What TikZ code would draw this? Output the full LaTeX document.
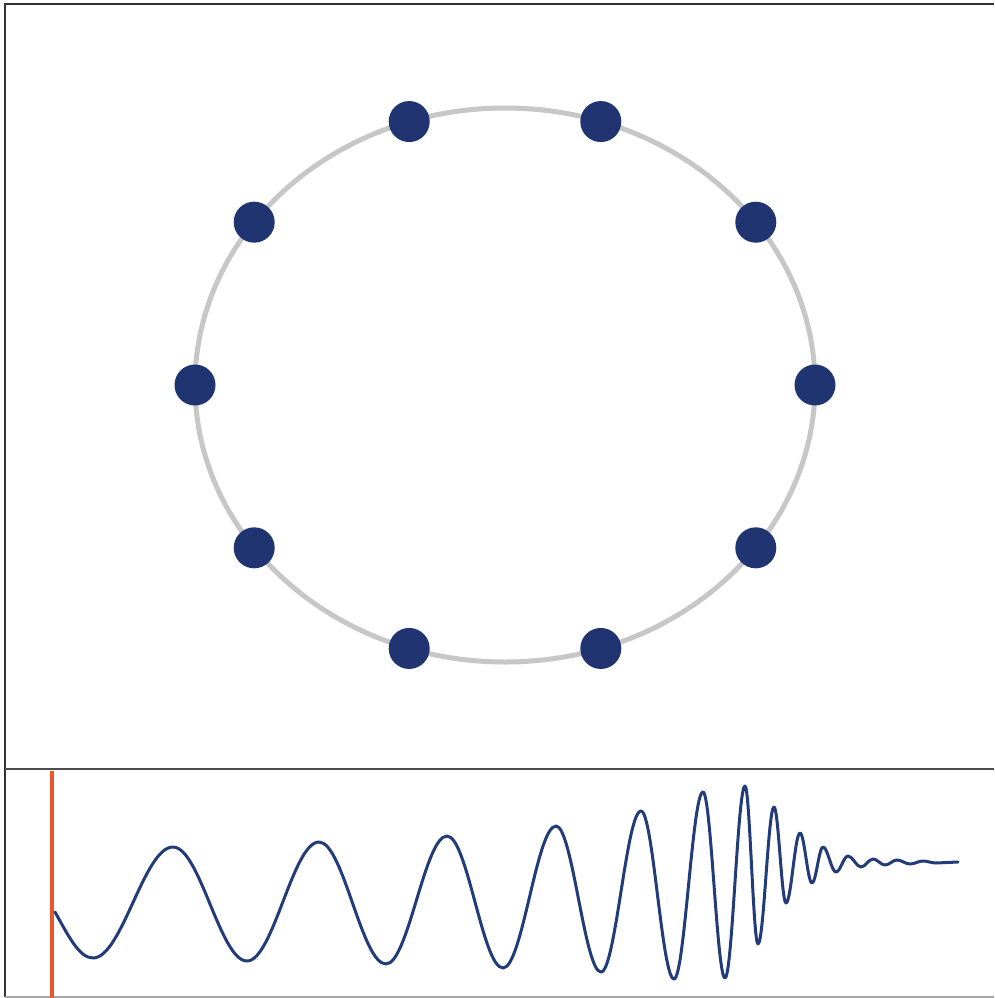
\documentclass[tikz,border=0pt]{standalone}
\usetikzlibrary{calc}
\begin{document}
\begin{tikzpicture}[x=1pt,y=-1pt,
  framel/.style={draw=black!80,line width=2pt},
  ring/.style={draw=black!22,line width=5pt},
  dotnode/.style={circle,fill=navy,inner sep=0pt,minimum size=41pt},
  wave/.style={draw=wavec,line width=3pt,line cap=round,line join=round},
  marker/.style={draw=orangec,line width=4.5pt}]
\definecolor{navy}{HTML}{1F3470}
\definecolor{wavec}{HTML}{223C7A}
\definecolor{orangec}{HTML}{E8582A}
\useasboundingbox (0,0) rectangle (994,998);
\fill[white] (0,0) rectangle (994,998);
% frame
\draw[framel] (994,4) -- (5,4) -- (5,997);
\draw[draw=black!35,line width=2pt] (5,997) -- (994,997);
\draw[draw=black!70,line width=2pt] (5,768.5) -- (994,768.5);
% ring with dots
\coordinate (c) at (505,385);
\draw[ring] (c) ellipse [x radius=310, y radius=277];
\foreach \a [count=\i] in {0,36,...,324}
  \node[dotnode] (d\i) at ($(c)+({310*cos(\a)},{-277*sin(\a)})$) {};
% orange marker
\draw[marker] (52,771) -- (52,998);
% chirp wave
\def\A{0.3634}
\draw[wave] (55,912) .. controls (68,935) and (79,958) .. (93,958)
\foreach \xa/\ya/\xb/\yb in {
  93/958/173/847, 173/847/247/961, 247/961/319/842, 319/842/386/964,
  386/964/447/836, 447/836/503/968, 503/968/556/826, 556/826/601/972,
  601/972/641/811, 641/811/674/979, 674/979/703/792, 703/792/725/978,
  725/978/745/786, 745/786/758/944, 758/944/774/807, 774/807/786/903,
  786/903/800/833, 800/833/812/883, 812/883/823/847, 823/847/836/872,
  836/872/848/856, 848/856/861/867, 861/867/873/859, 873/859/885/865,
  885/865/897/860, 897/860/910/864, 910/864/923/861, 923/861/936/863}
  { .. controls ({\xa+\A*(\xb-\xa)},\ya) and ({\xb-\A*(\xb-\xa)},\yb) .. (\xb,\yb) }
  -- (958,862);
\end{tikzpicture}
\end{document}
